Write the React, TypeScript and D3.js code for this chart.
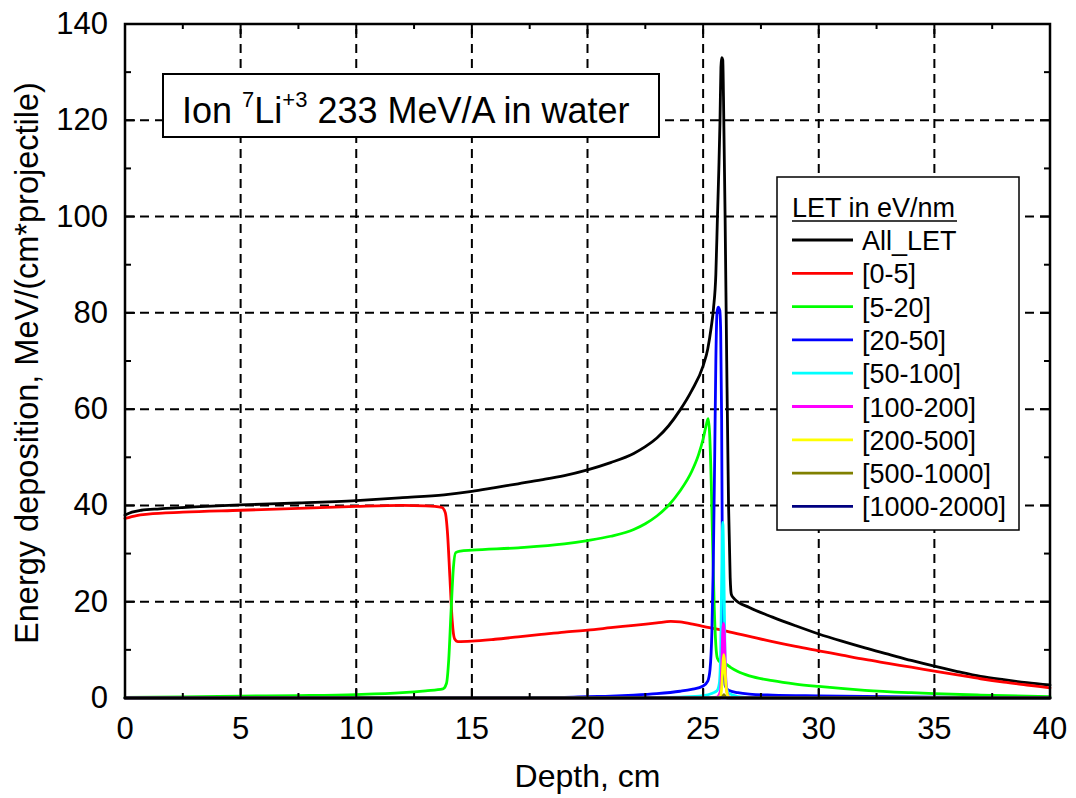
import React from "react";
import * as d3 from "d3";

const xTicks = [0, 5, 10, 15, 20, 25, 30, 35, 40];
const yTicks = [0, 20, 40, 60, 80, 100, 120, 140];
const legendTitle = "LET in eV/nm";
const seriesNames = ["All_LET", "[0-5]", "[5-20]", "[20-50]", "[50-100]", "[100-200]", "[200-500]", "[500-1000]", "[1000-2000]"];
const seriesColors = ["#000000", "#ff0000", "#00ff00", "#0000ff", "#00ffff", "#ff00ff", "#ffff00", "#808000", "#000080"];

const allLET: [number, number][] = [
  [0, 38.0], [0.3, 38.6], [0.7, 39.0], [1.5, 39.3], [3, 39.7], [5, 40.1], [7.5, 40.5], [10, 41.0], [12, 41.6], [13.8, 42.2],
  [15, 42.9], [16, 43.7], [17, 44.5], [18, 45.3], [19, 46.2], [20, 47.4], [21, 48.9], [22, 50.8], [22.5, 52.2], [23, 54.0],
  [23.5, 56.5], [24, 59.8], [24.5, 63.8], [25, 69.0], [25.2, 72.5], [25.35, 77], [25.45, 81], [25.55, 88], [25.62, 100],
  [25.68, 110], [25.73, 120], [25.77, 131], [25.8, 133], [25.85, 132.5], [25.88, 125], [25.95, 100], [26.02, 70], [26.1, 40],
  [26.17, 25], [26.22, 21.5], [26.35, 20.6], [27, 18.8], [28, 16.8], [29, 15.0], [30, 13.3], [31, 11.8], [32, 10.4],
  [33, 9.1], [34, 7.8], [35, 6.6], [36, 5.5], [37, 4.5], [38, 3.8], [39, 3.2], [40, 2.7]
];

const let0_5: [number, number][] = [
  [0, 37.3], [0.5, 37.9], [1, 38.2], [2.5, 38.6], [5, 39.0], [7.5, 39.4], [10, 39.8], [12, 40.0], [13, 39.9], [13.7, 39.6],
  [13.85, 38.5], [13.95, 34], [14.05, 25], [14.15, 16], [14.25, 12.3], [14.4, 11.7], [15, 11.8], [16, 12.2], [17, 12.7],
  [18, 13.2], [19, 13.7], [20, 14.1], [21, 14.6], [22, 15.1], [23, 15.6], [23.6, 15.9], [24, 15.8], [24.6, 15.3],
  [25, 14.9], [26, 13.9], [27, 12.8], [28, 11.7], [29, 10.7], [30, 9.8], [31, 8.9], [32, 8.0], [33, 7.2], [34, 6.4],
  [35, 5.6], [36, 4.8], [37, 4.0], [38, 3.3], [39, 2.7], [40, 2.1]
];

const let5_20: [number, number][] = [
  [0, 0.15], [2.5, 0.25], [5, 0.4], [7.5, 0.5], [10, 0.7], [12, 1.1], [13, 1.5], [13.75, 1.9], [13.9, 3], [14.0, 8],
  [14.1, 18], [14.2, 27], [14.3, 30.2], [14.5, 30.5], [15, 30.7], [17, 31.2], [19, 32.0], [20, 32.7], [21, 33.6],
  [22, 35.0], [22.5, 36.2], [23, 37.8], [23.5, 40.0], [24, 43.0], [24.5, 47.0], [24.8, 50.5], [25.0, 53.8], [25.15, 57.0],
  [25.22, 58], [25.28, 55], [25.35, 45], [25.42, 30], [25.48, 19], [25.55, 11], [25.62, 8.2], [25.75, 7.4], [26.0, 7.0],
  [26.2, 6.3], [26.5, 5.5], [27, 4.6], [28, 3.6], [29, 2.9], [30, 2.4], [32, 1.6], [34, 1.1], [35, 0.9], [37, 0.6], [40, 0.3]
];

const let20_50: [number, number][] = [
  [0, 0], [15, 0.05], [19, 0.15], [20, 0.3], [21, 0.4], [22, 0.6], [23, 0.9], [24, 1.4], [24.5, 1.8], [25, 2.5],
  [25.2, 3.5], [25.3, 6], [25.38, 14], [25.44, 28], [25.5, 50], [25.55, 70], [25.6, 80], [25.65, 81.2], [25.72, 80.5],
  [25.76, 76], [25.8, 58], [25.84, 22], [25.9, 6], [25.96, 2.5], [26.1, 1.6], [26.5, 1.1], [27, 0.8], [28, 0.6],
  [30, 0.45], [33, 0.3], [36, 0.15], [40, 0.05]
];

const let50_100: [number, number][] = [
  [0, 0], [23, 0.1], [24, 0.2], [25, 0.5], [25.4, 1.0], [25.6, 1.5], [25.7, 3], [25.76, 10], [25.8, 24], [25.85, 36.5],
  [25.9, 25], [25.95, 8], [26.0, 2.5], [26.1, 1.0], [26.5, 0.3], [27, 0.1], [28, 0], [40, 0]
];

const let100_200: [number, number][] = [
  [0, 0], [25, 0], [25.6, 0.2], [25.75, 1.5], [25.8, 6], [25.85, 14], [25.88, 15.5], [25.92, 13], [25.97, 5],
  [26.02, 1.5], [26.1, 0.3], [26.2, 0], [40, 0]
];

const let200_500: [number, number][] = [
  [0, 0], [25.5, 0], [25.75, 0.3], [25.8, 2], [25.85, 6.5], [25.89, 9], [25.93, 7.5], [25.98, 3], [26.03, 1],
  [26.1, 0.2], [26.2, 0], [40, 0]
];

const let500_1000: [number, number][] = [
  [0, 0], [25.7, 0], [25.85, 0.3], [25.9, 0.7], [25.95, 0.3], [26.05, 0], [40, 0]
];

const let1000_2000: [number, number][] = [
  [0, 0], [40, 0]
];

const seriesData = [allLET, let0_5, let5_20, let20_50, let50_100, let100_200, let200_500, let500_1000, let1000_2000];

const FONT = "'Liberation Sans', Arial, Helvetica, sans-serif";

export default function App() {
  const left = 125, right = 1050, top = 24, bottom = 698;
  const x = d3.scaleLinear().domain([0, 40]).range([left, right]);
  const y = d3.scaleLinear().domain([0, 140]).range([bottom, top]);
  const line = d3
    .line<[number, number]>()
    .x((d) => x(d[0]))
    .y((d) => y(d[1]))
    .curve(d3.curveMonotoneX);

  const xMinor = d3.range(2.5, 40, 5);
  const yMinor = d3.range(10, 140, 20);

  const legX = 777, legY = 177, legW = 242, legH = 353;
  const rowY0 = 240, rowStep = 33.3;

  return (
    <svg width={1076} height={798} style={{ display: "block", position: "absolute", left: 0, top: 0, background: "#fff" }}>
      <rect x={0} y={0} width={1076} height={798} fill="#fff" />
      {/* grid */}
      <g stroke="#000" strokeWidth={2} strokeDasharray="9,6">
        {xTicks.filter((t) => t > 0 && t < 40).map((t) => (
          <line key={"gx" + t} x1={x(t)} x2={x(t)} y1={bottom} y2={top} />
        ))}
        {yTicks.filter((t) => t > 0 && t < 140).map((t) => (
          <line key={"gy" + t} x1={left} x2={right} y1={y(t)} y2={y(t)} />
        ))}
      </g>

      {/* series */}
      <g fill="none" strokeLinejoin="round" strokeLinecap="round">
        {seriesData.map((s, i) => (
          <path key={seriesNames[i]} d={line(s) || ""} stroke={seriesColors[i]} strokeWidth={2.8} />
        ))}
      </g>

      {/* ticks */}
      <g stroke="#000" strokeWidth={2}>
        {xTicks.map((t) => (
          <g key={"tx" + t}>
            <line x1={x(t)} x2={x(t)} y1={bottom} y2={bottom - 10} />
            <line x1={x(t)} x2={x(t)} y1={top} y2={top + 10} />
          </g>
        ))}
        {xMinor.map((t) => (
          <g key={"mx" + t}>
            <line x1={x(t)} x2={x(t)} y1={bottom} y2={bottom - 5} />
            <line x1={x(t)} x2={x(t)} y1={top} y2={top + 5} />
          </g>
        ))}
        {yTicks.map((t) => (
          <g key={"ty" + t}>
            <line x1={left} x2={left + 10} y1={y(t)} y2={y(t)} />
            <line x1={right} x2={right - 10} y1={y(t)} y2={y(t)} />
          </g>
        ))}
        {yMinor.map((t) => (
          <g key={"my" + t}>
            <line x1={left} x2={left + 6} y1={y(t)} y2={y(t)} />
            <line x1={right} x2={right - 6} y1={y(t)} y2={y(t)} />
          </g>
        ))}
      </g>
      <rect x={left} y={top} width={right - left} height={bottom - top} fill="none" stroke="#000" strokeWidth={2.5} />

      {/* tick labels */}
      <g fontFamily={FONT} fontSize={31} fill="#000">
        {xTicks.map((t) => (
          <text key={"lx" + t} x={x(t)} y={739} textAnchor="middle">{t}</text>
        ))}
        {yTicks.map((t) => (
          <text key={"ly" + t} x={108} y={y(t) + 10} textAnchor="end">{t}</text>
        ))}
      </g>

      {/* axis titles */}
      <text x={(left + right) / 2} y={787} textAnchor="middle" fontFamily={FONT} fontSize={32} fill="#000">Depth, cm</text>
      <text transform={`translate(38, ${(top + bottom) / 2 + 2}) rotate(-90)`} textAnchor="middle" fontFamily={FONT} fontSize={32.5} fill="#000">
        Energy deposition, MeV/(cm*projectile)
      </text>

      {/* title box */}
      <rect x={163} y={74} width={496} height={63} fill="#fff" stroke="#000" strokeWidth={2} />
      <text x={182} y={123} fontFamily={FONT} fontSize={36} fill="#000" style={{ whiteSpace: "pre" }}>
        <tspan>Ion </tspan>
        <tspan fontSize={22} dy={-16}>7</tspan>
        <tspan dy={16}>Li</tspan>
        <tspan fontSize={22} dy={-16}>+3</tspan>
        <tspan dy={16}> 233 MeV/A in water</tspan>
      </text>

      {/* legend */}
      <rect x={legX} y={legY} width={legW} height={legH} fill="#fff" stroke="#000" strokeWidth={1.5} />
      <text x={792} y={217} fontFamily={FONT} fontSize={27} fill="#000">{legendTitle}</text>
      <line x1={792} x2={957} y1={221} y2={221} stroke="#000" strokeWidth={1.5} />
      {seriesNames.map((n, i) => (
        <g key={"leg" + n}>
          <line x1={792} x2={853} y1={rowY0 + i * rowStep} y2={rowY0 + i * rowStep} stroke={seriesColors[i]} strokeWidth={2.8} />
          <text x={862} y={rowY0 + i * rowStep + 10} fontFamily={FONT} fontSize={27} fill="#000">{n}</text>
        </g>
      ))}
    </svg>
  );
}
